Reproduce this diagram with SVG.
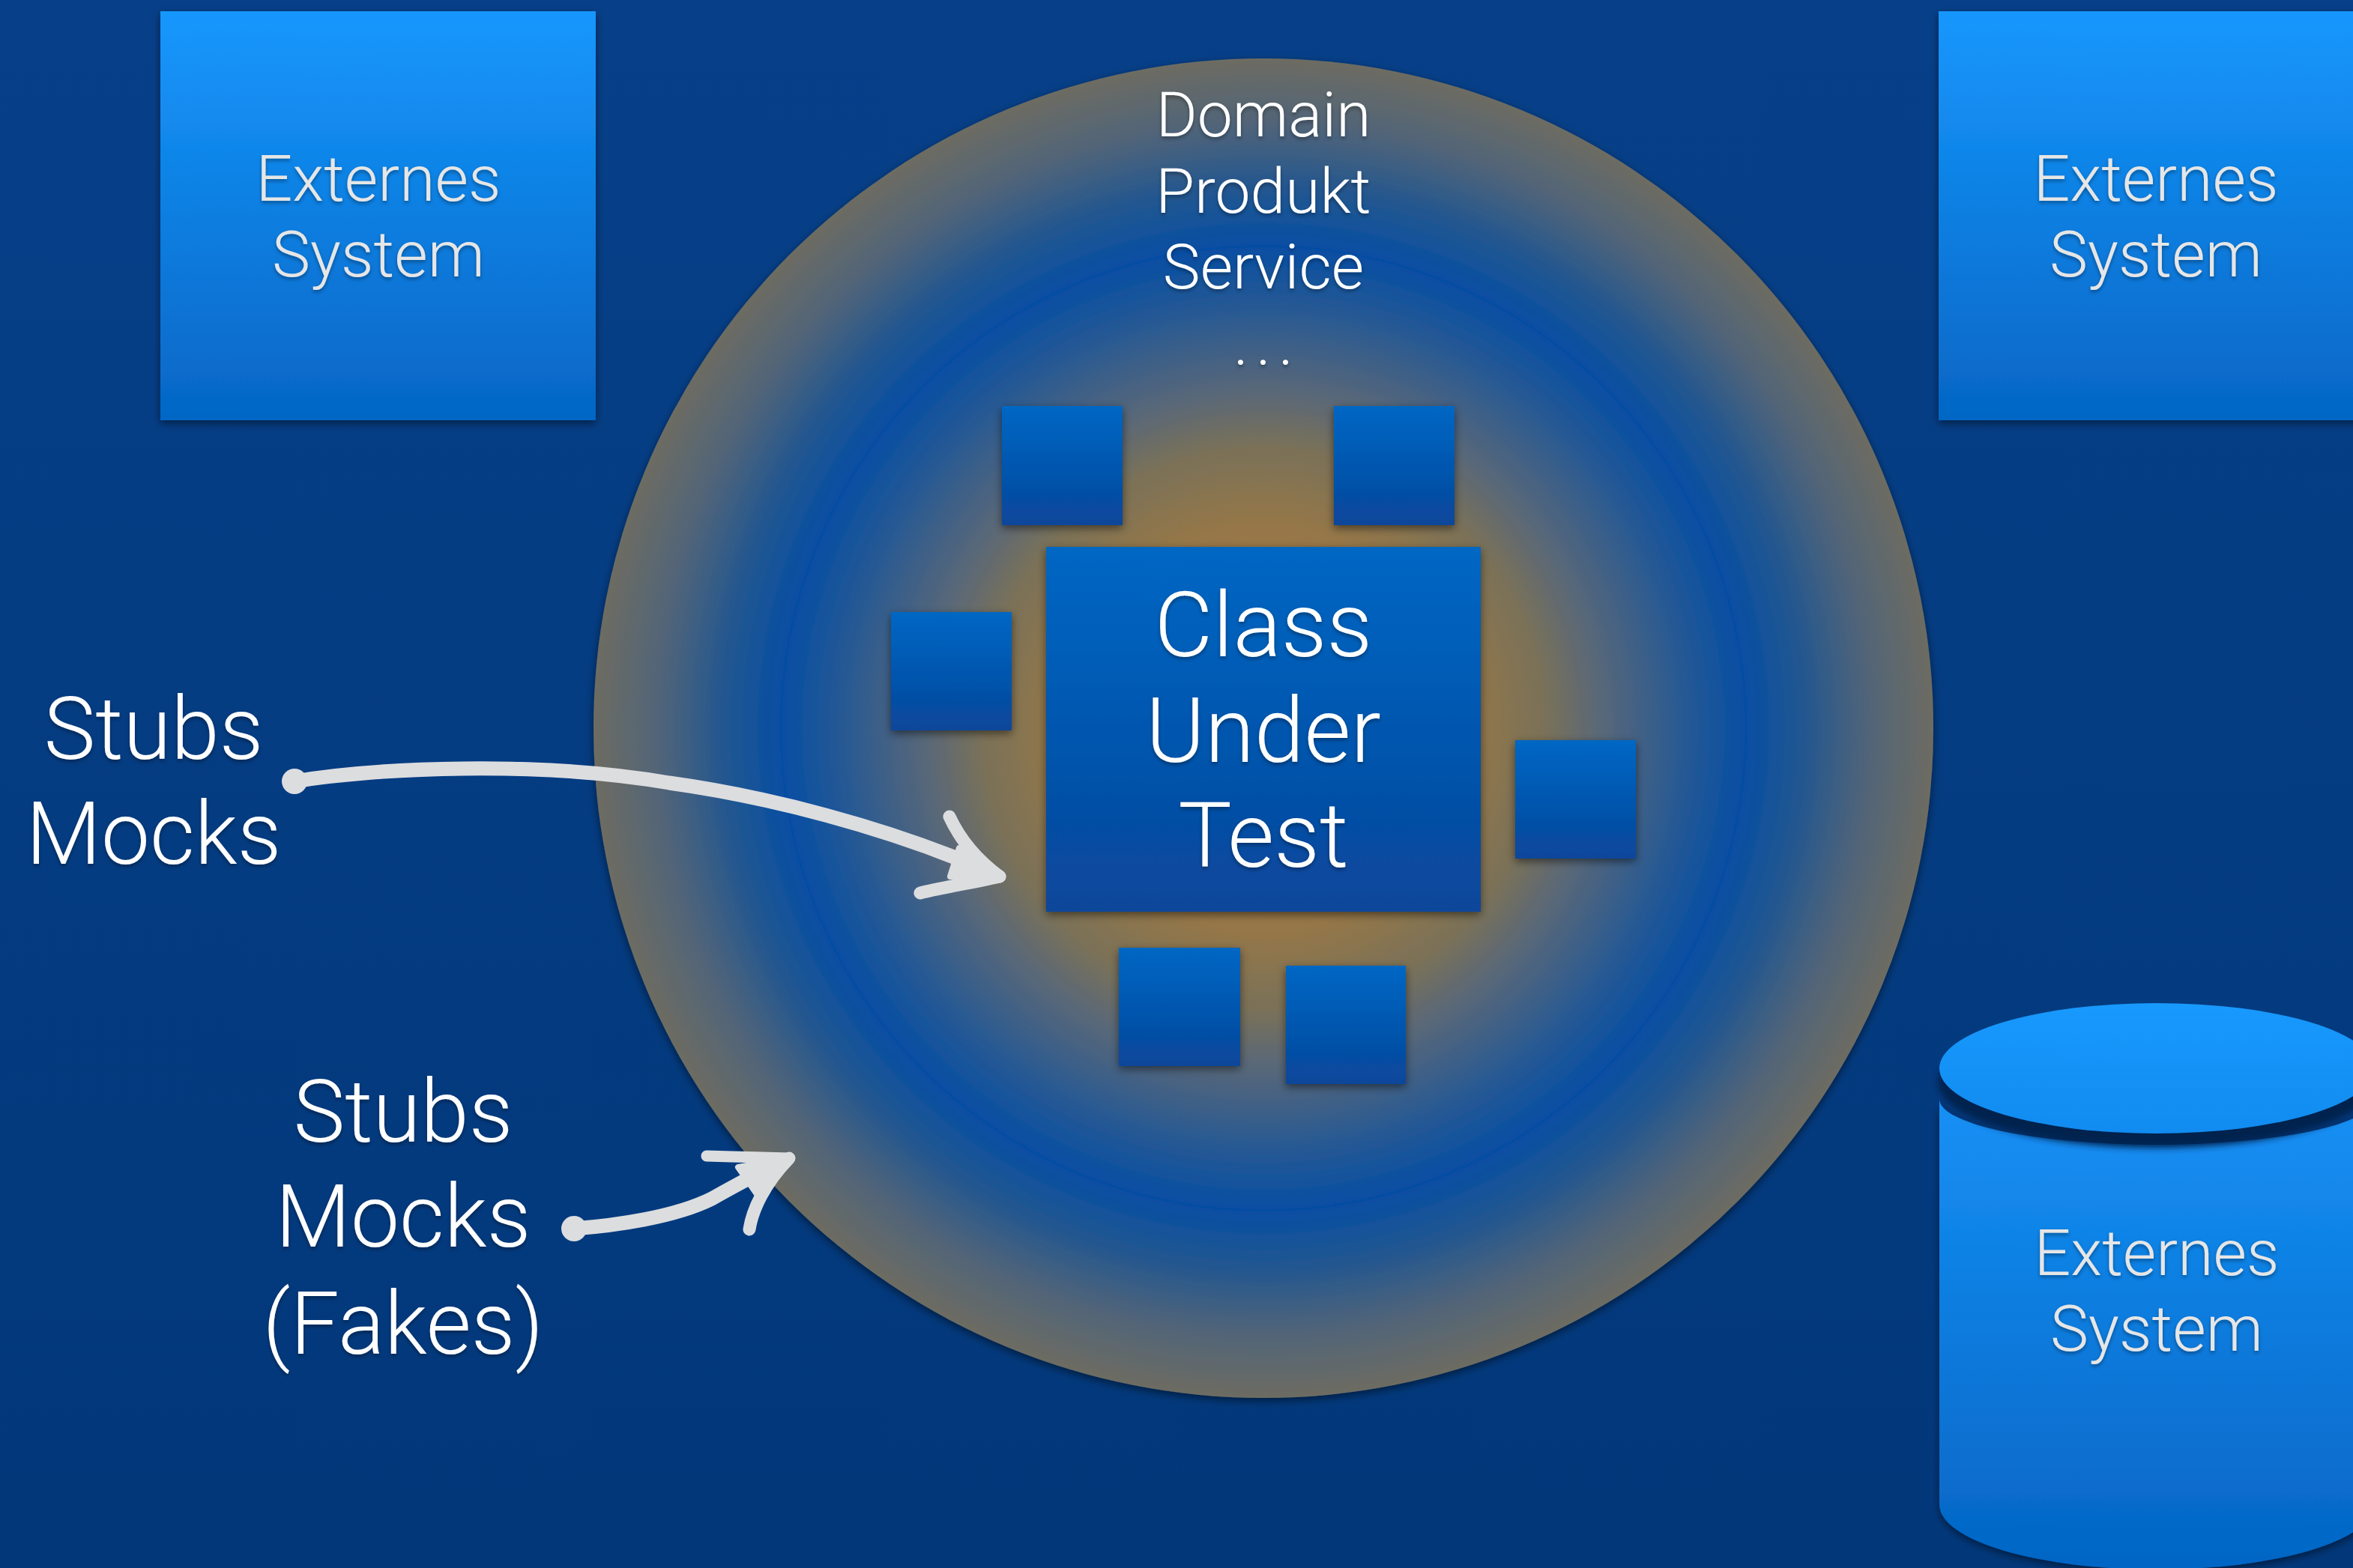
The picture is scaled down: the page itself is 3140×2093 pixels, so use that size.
<svg xmlns="http://www.w3.org/2000/svg" width="3140" height="2093" viewBox="0 0 3140 2093">
  <defs>
    <linearGradient id="bg" x1="0" y1="0" x2="0" y2="1">
      <stop offset="0" stop-color="#074089"/>
      <stop offset="1" stop-color="#02387a"/>
    </linearGradient>
    <linearGradient id="extGrad" x1="0" y1="0" x2="0" y2="1">
      <stop offset="0" stop-color="#1797fd"/>
      <stop offset="1" stop-color="#0566c5"/>
    </linearGradient>
    <linearGradient id="cylBody" x1="0" y1="0" x2="0" y2="1">
      <stop offset="0" stop-color="#1690f5"/>
      <stop offset="1" stop-color="#0465c4"/>
    </linearGradient>
    <linearGradient id="cylTop" x1="0" y1="0" x2="0" y2="1">
      <stop offset="0" stop-color="#1899fe"/>
      <stop offset="1" stop-color="#118bef"/>
    </linearGradient>
    <linearGradient id="sqGrad" x1="0" y1="0" x2="0" y2="1">
      <stop offset="0" stop-color="#0067c4"/>
      <stop offset="1" stop-color="#08469a"/>
    </linearGradient>
    <radialGradient id="domainGrad" gradientUnits="userSpaceOnUse" cx="1686" cy="972" r="894">
      <stop offset="0" stop-color="#a67b3a"/>
      <stop offset="0.3" stop-color="#967748"/>
      <stop offset="0.42" stop-color="#7a7158"/>
      <stop offset="0.5" stop-color="#5a6877"/>
      <stop offset="0.62" stop-color="#2a5a92"/>
      <stop offset="0.72" stop-color="#064ea3"/>
      <stop offset="0.81" stop-color="#24578f"/>
      <stop offset="0.9" stop-color="#506479"/>
      <stop offset="1" stop-color="#6d6c62"/>
    </radialGradient>
    <filter id="shadow" x="-10%" y="-10%" width="120%" height="120%">
      <feDropShadow dx="0" dy="4" stdDeviation="6" flood-color="#000" flood-opacity="0.5"/>
    </filter>
    <filter id="tshadow" x="-10%" y="-10%" width="120%" height="130%">
      <feDropShadow dx="0" dy="3" stdDeviation="2.5" flood-color="#000" flood-opacity="0.35"/>
    </filter>
    <filter id="blur8" x="-10%" y="-30%" width="120%" height="160%">
      <feGaussianBlur stdDeviation="5"/>
    </filter>
  </defs>
  <style>
    .lbl { font-family: Roboto, "Liberation Sans", sans-serif; font-weight: 300; text-anchor: middle; filter: url(#tshadow); }
    .ext { font-size: 86px; fill: #e6e6e6; }
    .dom { font-size: 84px; fill: #ffffff; }
    .cut { font-size: 120px; fill: #ffffff; }
    .side { font-size: 116px; fill: #ffffff; }
    .sq { fill: url(#sqGrad); filter: url(#shadow); }
    .ebox { fill: url(#extGrad); filter: url(#shadow); }
    .arrow { fill: none; stroke: #dcdddf; stroke-linecap: round; stroke-linejoin: round; }
    .head { fill: #dcdddf; stroke: #dcdddf; stroke-width: 8px; stroke-linejoin: round; }
    .blob { fill: #dcdddf; }
  </style>

  <rect x="0" y="0" width="3140" height="2093" fill="url(#bg)"/>

  <g id="domain">
    <circle cx="1686" cy="972" r="894" fill="url(#domainGrad)" filter="url(#shadow)"/>
    <text class="lbl dom" x="1686" y="182">Domain</text>
    <text class="lbl dom" x="1686" y="284">Produkt</text>
    <text class="lbl dom" x="1686" y="385">Service</text>
    <text class="lbl dom" x="1656 1686 1716" y="487">...</text>
  </g>

  <g id="ext-top-left">
    <rect class="ebox" x="214" y="15" width="581" height="546"/>
    <text class="lbl ext" x="505" y="268">Externes</text>
    <text class="lbl ext" x="505" y="369">System</text>
  </g>

  <g id="ext-top-right">
    <rect class="ebox" x="2587" y="15" width="581" height="546"/>
    <text class="lbl ext" x="2877" y="268">Externes</text>
    <text class="lbl ext" x="2877" y="369">System</text>
  </g>

  <g id="ext-db">
    <path d="M2588,1467 L2588,2008 A290,87 0 0 0 3168,2008 L3168,1467 A290,61 0 0 1 2588,1467 Z" fill="url(#cylBody)" filter="url(#shadow)"/>
    <ellipse cx="2878" cy="1444" rx="292" ry="88" fill="#01234e" filter="url(#blur8)"/>
    <ellipse cx="2878" cy="1426" rx="290" ry="87" fill="url(#cylTop)"/>
    <text class="lbl ext" x="2878" y="1702">Externes</text>
    <text class="lbl ext" x="2878" y="1803">System</text>
  </g>

  <g id="dep-top-left"><rect class="sq" x="1337" y="542" width="161" height="159"/></g>
  <g id="dep-top-right"><rect class="sq" x="1780" y="542" width="161" height="159"/></g>
  <g id="dep-left"><rect class="sq" x="1189" y="817" width="161" height="158"/></g>
  <g id="dep-right"><rect class="sq" x="2022" y="988" width="161" height="158"/></g>
  <g id="dep-bottom-left"><rect class="sq" x="1493" y="1265" width="162" height="158"/></g>
  <g id="dep-bottom-right"><rect class="sq" x="1716" y="1289" width="160" height="158"/></g>

  <g id="class-under-test">
    <rect class="sq" x="1396" y="730" width="580" height="487"/>
    <text class="lbl cut" x="1686" y="876">Class</text>
    <text class="lbl cut" x="1686" y="1017">Under</text>
    <text class="lbl cut" x="1686" y="1157">Test</text>
  </g>

  <g id="label-stubs-mocks">
    <text class="lbl side" x="205" y="1013">Stubs</text>
    <text class="lbl side" x="205" y="1153">Mocks</text>
  </g>

  <g id="label-stubs-mocks-fakes">
    <text class="lbl side" x="538" y="1524">Stubs</text>
    <text class="lbl side" x="538" y="1664">Mocks</text>
    <text class="lbl side" x="538" y="1807">(Fakes)</text>
  </g>

  <g id="connectors">
    <g id="arrow-to-cut">
      <circle class="blob" cx="393" cy="1043" r="17"/>
      <path class="arrow" stroke-width="19" d="M393,1043 C500,1025 720,1015 893,1045 C1030,1064 1180,1105 1300,1155"/>
      <path class="arrow" stroke-width="17" d="M1267,1090 C1280,1118 1300,1145 1334,1170"/>
      <path class="arrow" stroke-width="17" d="M1228,1192 C1255,1185 1290,1180 1334,1170"/>
      <polygon class="head" points="1280,1132 1334,1170 1268,1170"/>
    </g>
    <g id="arrow-to-domain">
      <circle class="blob" cx="766" cy="1640" r="17"/>
      <path class="arrow" stroke-width="19" d="M766,1640 C820,1636 900,1625 950,1600 C975,1586 995,1575 1015,1565"/>
      <path class="arrow" stroke-width="15" d="M943,1543 C980,1544 1020,1545 1053,1546"/>
      <path class="arrow" stroke-width="17" d="M1000,1641 C1004,1615 1020,1580 1053,1546"/>
      <polygon class="head" points="985,1558 1053,1546 1010,1594"/>
    </g>
  </g>
</svg>
